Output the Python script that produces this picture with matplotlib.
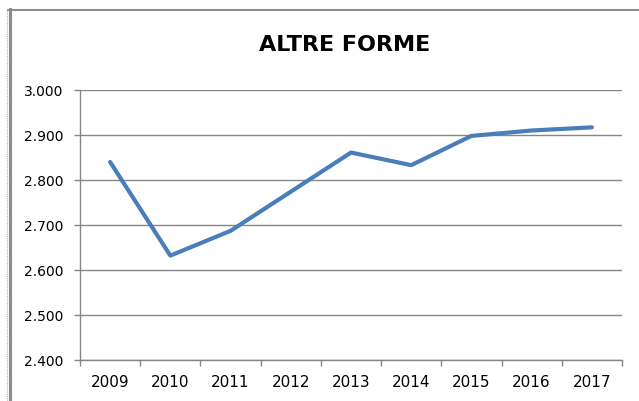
import matplotlib.pyplot as plt
from matplotlib.lines import Line2D

# values
years = ["2009", "2010", "2011", "2012", "2013", "2014", "2015", "2016", "2017"]
values = [2.840, 2.632, 2.687, 2.774, 2.861, 2.833, 2.898, 2.910, 2.917]
y_ticks = [2.4, 2.5, 2.6, 2.7, 2.8, 2.9, 3.0]
y_labels = ["2.400", "2.500", "2.600", "2.700", "2.800", "2.900", "3.000"]

W, H = 639, 402
plt.rcParams['font.family'] = ['DejaVu Sans']

fig = plt.figure(figsize=(W / 100, H / 100), dpi=100)
ax = fig.add_axes([80 / W, 1 - 361 / H, 542 / W, 270 / H])

x = range(len(years))
ax.plot(x, values, color='#4a7ebb', linewidth=3, solid_capstyle='round',
        solid_joinstyle='round', zorder=3)

ax.set_xlim(-0.5, len(years) - 0.5)
ax.set_ylim(2.4, 3.0)
ax.set_yticks(y_ticks)
ax.set_yticklabels(y_labels)
ax.set_xticks(list(x))
ax.set_xticklabels(years)
# tick marks sit on category boundaries
ax.set_xticks([i - 0.5 for i in range(len(years) + 1)], minor=True)
ax.tick_params(axis='x', which='major', length=0, pad=10, labelsize=11)
ax.tick_params(axis='x', which='minor', length=4, color='#868686', width=1)
ax.tick_params(axis='y', length=4, color='#868686', width=1, pad=8, labelsize=10)

ax.grid(axis='y', color='#868686', linewidth=1)
ax.set_axisbelow(True)
for side in ['top', 'right']:
    ax.spines[side].set_visible(False)
for side in ['left', 'bottom']:
    ax.spines[side].set_color('#868686')
    ax.spines[side].set_linewidth(1)

fig.text(345 / W, 1 - 45 / H, "ALTRE FORME", ha='center', va='center',
         fontsize=16, fontweight='bold')

# chart frame pieces on the top and left edges
fig.add_artist(Line2D([8 / W, 1], [1 - 11 / H, 1 - 11 / H], color='#8c8c8c',
                      linewidth=1.5, transform=fig.transFigure))
fig.add_artist(Line2D([9.5 / W, 9.5 / W], [0, 1 - 10 / H], color='#8c8c8c',
                      linewidth=2.2, transform=fig.transFigure))
fig.add_artist(Line2D([6.5 / W, 6.5 / W], [0, 1 - 10 / H], color='#b0b0b0',
                      linewidth=0.8, linestyle=(0, (1, 1)), transform=fig.transFigure))

fig.savefig("out.png", dpi=100)
